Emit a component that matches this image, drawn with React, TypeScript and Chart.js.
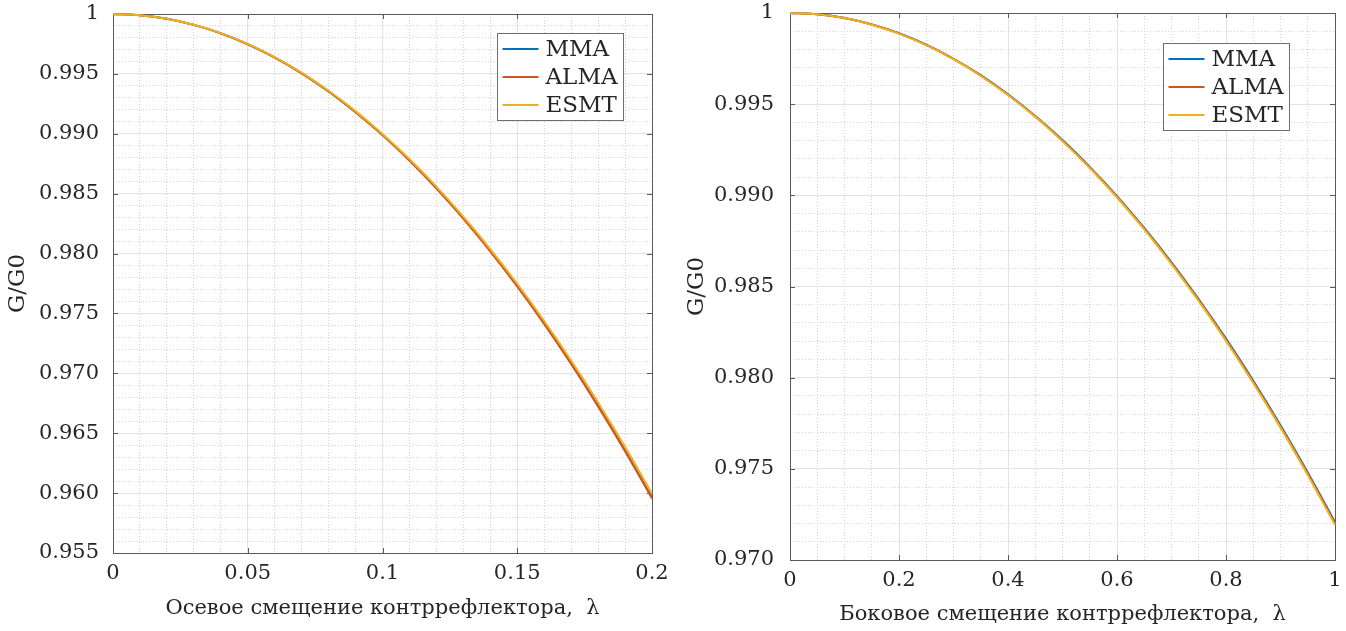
import React, { useEffect, useRef } from 'react';
import { Chart, registerables } from 'chart.js';

Chart.register(...registerables);

// ---------- shared ----------
const seriesNames = ['MMA', 'ALMA', 'ESMT'];
const seriesColors = ['#0072BD', '#D95319', '#EDB120'];
const yTitle = 'G/G0';

// ---------- left panel: axial displacement ----------
const axialX = [0, 0.01, 0.02, 0.03, 0.04, 0.05, 0.06, 0.07, 0.08, 0.09, 0.1, 0.11, 0.12, 0.13, 0.14, 0.15, 0.16, 0.17, 0.18, 0.19, 0.2];
const axialMMA = [1.0, 0.9999, 0.9996, 0.99909, 0.99839, 0.99748, 0.99637, 0.99506, 0.99354, 0.99183, 0.98991, 0.98779, 0.98547, 0.98295, 0.98022, 0.9773, 0.97417, 0.97084, 0.96731, 0.96358, 0.95964];
const axialALMA = [1.0, 0.9999, 0.9996, 0.99909, 0.99838, 0.99747, 0.99636, 0.99505, 0.99353, 0.99181, 0.98989, 0.98777, 0.98544, 0.98291, 0.98018, 0.97725, 0.97412, 0.97078, 0.96724, 0.9635, 0.95956];
const axialESMT = [1.0, 0.9999, 0.9996, 0.9991, 0.9984, 0.9975, 0.9964, 0.9951, 0.99359, 0.99189, 0.98999, 0.98789, 0.98559, 0.98308, 0.98038, 0.97748, 0.97437, 0.97107, 0.96757, 0.96386, 0.95996];
const axialXTicks = [0, 0.05, 0.1, 0.15, 0.2];
const axialXTickLabels = ['0', '0.05', '0.1', '0.15', '0.2'];
const axialYTicks = [0.955, 0.96, 0.965, 0.97, 0.975, 0.98, 0.985, 0.99, 0.995, 1];
const axialYTickLabels = ['0.955', '0.960', '0.965', '0.970', '0.975', '0.980', '0.985', '0.990', '0.995', '1'];
const axialXTitle = 'Осевое смещение контррефлектора,  λ';

// ---------- right panel: lateral displacement ----------
const lateralX = [0, 0.05, 0.1, 0.15, 0.2, 0.25, 0.3, 0.35, 0.4, 0.45, 0.5, 0.55, 0.6, 0.65, 0.7, 0.75, 0.8, 0.85, 0.9, 0.95, 1.0];
const lateralMMA = [1.0, 0.99993, 0.99972, 0.99937, 0.99889, 0.99826, 0.99749, 0.99659, 0.99554, 0.99435, 0.99303, 0.99156, 0.98996, 0.98821, 0.98633, 0.9843, 0.98214, 0.97983, 0.97739, 0.9748, 0.97208];
const lateralALMA = [1.0, 0.99993, 0.99972, 0.99937, 0.99888, 0.99825, 0.99748, 0.99657, 0.99552, 0.99433, 0.993, 0.99153, 0.98992, 0.98817, 0.98628, 0.98425, 0.98208, 0.97977, 0.97732, 0.97473, 0.972];
const lateralESMT = [1.0, 0.99993, 0.99972, 0.99936, 0.99887, 0.99824, 0.99747, 0.99656, 0.9955, 0.99431, 0.99297, 0.9915, 0.98988, 0.98813, 0.98623, 0.9842, 0.98202, 0.97971, 0.97726, 0.97466, 0.97193];
const lateralXTicks = [0, 0.2, 0.4, 0.6, 0.8, 1];
const lateralXTickLabels = ['0', '0.2', '0.4', '0.6', '0.8', '1'];
const lateralYTicks = [0.97, 0.975, 0.98, 0.985, 0.99, 0.995, 1];
const lateralYTickLabels = ['0.970', '0.975', '0.980', '0.985', '0.990', '0.995', '1'];
const lateralXTitle = 'Боковое смещение контррефлектора,  λ';

// ---------- styling ----------
const FONT = '"DejaVu Serif", serif';
const TEXT = '#262626';
const AXIS = '#5a5a5a';
const GRID_MAJOR = '#e3e3e3';
const GRID_MINOR = '#d4d4d4';

const findIdx = (v: number, arr: number[]) => arr.findIndex((m) => Math.abs(m - v) < 1e-9);

const framePlugin = {
  id: 'matlabFrame',
  beforeDatasetsDraw(chart: any, _args: any, opts: any) {
    const { ctx, chartArea } = chart;
    const { left, right, top, bottom } = chartArea;
    const xs = chart.scales.x;
    const ys = chart.scales.y;
    const L = 5;
    ctx.save();
    ctx.strokeStyle = AXIS;
    ctx.lineWidth = 1;
    ctx.beginPath();
    for (const v of opts.xMajor) {
      const px = Math.round(xs.getPixelForValue(v)) + 0.5;
      ctx.moveTo(px, bottom);
      ctx.lineTo(px, bottom - L);
      ctx.moveTo(px, top);
      ctx.lineTo(px, top + L);
    }
    for (const v of opts.yMajor) {
      const py = Math.round(ys.getPixelForValue(v)) + 0.5;
      ctx.moveTo(left, py);
      ctx.lineTo(left + L, py);
      ctx.moveTo(right, py);
      ctx.lineTo(right - L, py);
    }
    ctx.stroke();
    ctx.strokeRect(Math.round(left) + 0.5, Math.round(top) + 0.5, Math.round(right - left), Math.round(bottom - top));
    ctx.restore();
  },
  afterDatasetsDraw(chart: any, _args: any, opts: any) {
    const { ctx, chartArea } = chart;
    const bx = Math.round(chartArea.left + opts.legendX) + 0.5;
    const by = Math.round(chartArea.top + opts.legendY) + 0.5;
    const bw = 126;
    const bh = 87;
    ctx.save();
    ctx.fillStyle = '#ffffff';
    ctx.fillRect(bx, by, bw, bh);
    ctx.strokeStyle = '#6e6e6e';
    ctx.lineWidth = 1;
    ctx.strokeRect(bx, by, bw, bh);
    ctx.font = `23px ${FONT}`;
    ctx.textBaseline = 'middle';
    ctx.textAlign = 'left';
    chart.data.datasets.forEach((ds: any, i: number) => {
      const ry = Math.round(by + 15 + i * 28);
      ctx.strokeStyle = ds.borderColor;
      ctx.lineWidth = 2;
      ctx.beginPath();
      ctx.moveTo(bx + 5, ry);
      ctx.lineTo(bx + 41, ry);
      ctx.stroke();
      ctx.fillStyle = TEXT;
      ctx.fillText(ds.label, bx + 48, ry + 1);
    });
    ctx.restore();
  },
};

type PanelProps = {
  left: number;
  width: number;
  xs: number[];
  series: number[][];
  xMin: number;
  xMax: number;
  xStep: number;
  xMajor: number[];
  xLabels: string[];
  yMin: number;
  yMax: number;
  yStep: number;
  yMajor: number[];
  yLabels: string[];
  xTitle: string;
  yAxisWidth: number;
  xAxisHeight: number;
  padTop: number;
  padRight: number;
  yTitlePad: number;
  xTitlePad: number;
  yTickPad: number;
  legendX: number;
  legendY: number;
};

function Panel(p: PanelProps) {
  const ref = useRef<HTMLCanvasElement | null>(null);
  useEffect(() => {
    if (!ref.current) return;
    const datasets = p.series.map((vals, i) => ({
      label: seriesNames[i],
      data: p.xs.map((x, j) => ({ x, y: vals[j] })),
      borderColor: seriesColors[i],
      backgroundColor: seriesColors[i],
      borderWidth: 2,
      pointRadius: 0,
      fill: false,
      cubicInterpolationMode: 'monotone' as const,
      order: seriesNames.length - i,
      clip: 3,
    }));
    const gridFor = (major: number[]) => ({
      color: (c: any) => (c.tick && findIdx(c.tick.value, major) >= 0 ? GRID_MAJOR : GRID_MINOR),
      lineWidth: 1,
      drawTicks: false,
    });
    const borderFor = (major: number[]) => ({
      display: false,
      dash: (c: any) => (c.tick && findIdx(c.tick.value, major) >= 0 ? [] : [1, 2]),
    });
    const chart = new Chart(ref.current, {
      type: 'line',
      data: { datasets },
      plugins: [framePlugin as any],
      options: {
        responsive: false,
        maintainAspectRatio: false,
        animation: false,
        events: [],
        layout: { padding: { left: 0, top: p.padTop, right: p.padRight, bottom: 0 } },
        scales: {
          x: {
            type: 'linear',
            min: p.xMin,
            max: p.xMax,
            grid: gridFor(p.xMajor) as any,
            border: borderFor(p.xMajor) as any,
            afterFit: (s: any) => {
              s.height = p.xAxisHeight;
              s.paddingLeft = 0;
              s.paddingRight = 0;
            },
            ticks: {
              stepSize: p.xStep,
              autoSkip: false,
              maxRotation: 0,
              minRotation: 0,
              padding: 8,
              color: TEXT,
              font: { family: FONT, size: 21 },
              callback: (v: any) => {
                const k = findIdx(Number(v), p.xMajor);
                return k >= 0 ? p.xLabels[k] : '';
              },
            },
            title: {
              display: true,
              text: p.xTitle,
              color: TEXT,
              font: { family: FONT, size: 21 },
              padding: { top: 0, bottom: p.xTitlePad },
            },
          },
          y: {
            type: 'linear',
            min: p.yMin,
            max: p.yMax,
            grid: gridFor(p.yMajor) as any,
            border: borderFor(p.yMajor) as any,
            afterFit: (s: any) => {
              s.width = p.yAxisWidth;
              s.paddingTop = 0;
              s.paddingBottom = 0;
            },
            ticks: {
              stepSize: p.yStep,
              autoSkip: false,
              padding: p.yTickPad,
              color: TEXT,
              font: { family: FONT, size: 21 },
              callback: (v: any) => {
                const k = findIdx(Number(v), p.yMajor);
                return k >= 0 ? p.yLabels[k] : '';
              },
            },
            title: {
              display: true,
              text: yTitle,
              color: TEXT,
              font: { family: FONT, size: 23 },
              padding: { top: p.yTitlePad, bottom: 0 },
            },
          },
        },
        plugins: {
          legend: { display: false },
          tooltip: { enabled: false },
          matlabFrame: { xMajor: p.xMajor, yMajor: p.yMajor, legendX: p.legendX, legendY: p.legendY },
        } as any,
      },
    });
    return () => chart.destroy();
  }, []);
  return (
    <canvas
      ref={ref}
      width={p.width}
      height={631}
      style={{ position: 'absolute', left: p.left, top: 0, width: p.width, height: 631 }}
    />
  );
}

export default function App() {
  return (
    <div style={{ position: 'absolute', left: 0, top: 0, width: 1346, height: 631, background: '#ffffff', overflow: 'hidden' }}>
      <Panel
        left={0}
        width={673}
        xs={axialX}
        series={[axialMMA, axialALMA, axialESMT]}
        xMin={0}
        xMax={0.2}
        xStep={0.01}
        xMajor={axialXTicks}
        xLabels={axialXTickLabels}
        yMin={0.955}
        yMax={1}
        yStep={0.001}
        yMajor={axialYTicks}
        yLabels={axialYTickLabels}
        xTitle={axialXTitle}
        yAxisWidth={113}
        xAxisHeight={78}
        padTop={14}
        padRight={21}
        yTitlePad={4}
        xTitlePad={10}
        yTickPad={14}
        legendX={384}
        legendY={19}
      />
      <Panel
        left={673}
        width={673}
        xs={lateralX}
        series={[lateralMMA, lateralALMA, lateralESMT]}
        xMin={0}
        xMax={1}
        xStep={0.05}
        xMajor={lateralXTicks}
        xLabels={lateralXTickLabels}
        yMin={0.97}
        yMax={1}
        yStep={0.001}
        yMajor={lateralYTicks}
        yLabels={lateralYTickLabels}
        xTitle={lateralXTitle}
        yAxisWidth={117}
        xAxisHeight={71}
        padTop={13}
        padRight={11}
        yTitlePad={10}
        xTitlePad={4}
        yTickPad={16}
        legendX={373}
        legendY={30}
      />
    </div>
  );
}
